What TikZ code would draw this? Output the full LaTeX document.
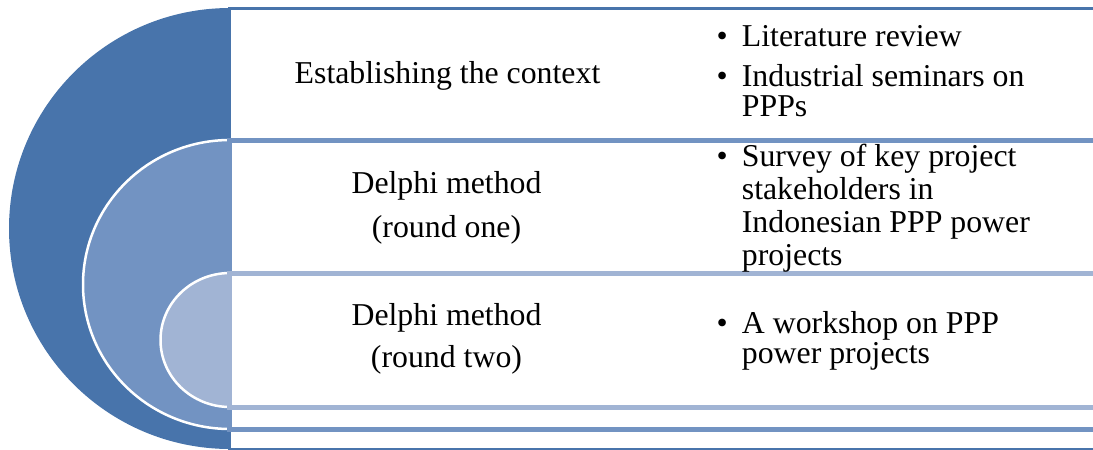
\documentclass[tikz,border=0pt]{standalone}
\usepackage{fontspec}
\setmainfont{Liberation Serif}
\definecolor{cdark}{HTML}{4874AB}
\definecolor{cmed}{HTML}{7293C2}
\definecolor{clight}{HTML}{A1B4D4}
\begin{document}
\begin{tikzpicture}[x=1pt,y=-1pt,
  txt/.style={inner sep=0pt, font=\fontsize{31.8}{34}\selectfont},
  ctr/.style={txt, anchor=base},
  lft/.style={txt, anchor=base west},
  disc/.style={draw=white, line width=2.5pt},
  band/.style={fill=white}]
\useasboundingbox (0,0) rectangle (1093,450);
\clip (0,0) rectangle (1093,450);
% outer level
\fill[cdark] (230,228.5) ellipse [x radius=221, y radius=220.5];
\draw[band, draw=cdark, line width=3pt] (229.5,8) rectangle (1120,449);
% middle level
\path[disc, fill=cmed] (230,284.5) ellipse [x radius=147, y radius=144.5];
\draw[band, draw=cmed, line width=5pt] (229.5,140) rectangle (1120,429);
% inner level
\path[disc, fill=clight] (230,340) ellipse [x radius=69.5, y radius=67];
\draw[band, draw=clight, line width=5pt] (229.5,273) rectangle (1120,407);
% texts
\node[ctr] (t1) at (447.5,83) {Establishing the context};
\node[txt, anchor=base west] (b1) at (716.5,46.7) {•};
\node[lft] (l1) at (741.7,46.7) {Literature review};
\node[txt, anchor=base west] (b2) at (716.5,86.5) {•};
\node[lft] (l2) at (741.7,86.5) {Industrial seminars on};
\node[lft] (l3) at (741.7,116.7) {PPPs};
\node[ctr] (t2a) at (446.5,193.3) {Delphi method};
\node[ctr] (t2b) at (446.5,237.5) {(round one)};
\node[txt, anchor=base west] (b3) at (716.5,166) {•};
\node[lft] (l4) at (741.7,166) {Survey of key project};
\node[lft] (l5) at (741.7,199.2) {stakeholders in};
\node[lft] (l6) at (741.7,232.4) {Indonesian PPP power};
\node[lft] (l7) at (741.7,265.3) {projects};
\node[ctr] (t3a) at (446.5,325.7) {Delphi method};
\node[ctr] (t3b) at (446.5,367.3) {(round two)};
\node[txt, anchor=base west] (b4) at (716.5,333.3) {•};
\node[lft] (l8) at (741.7,333.3) {A workshop on PPP};
\node[lft] (l9) at (741.7,363.3) {power projects};
\end{tikzpicture}
\end{document}
